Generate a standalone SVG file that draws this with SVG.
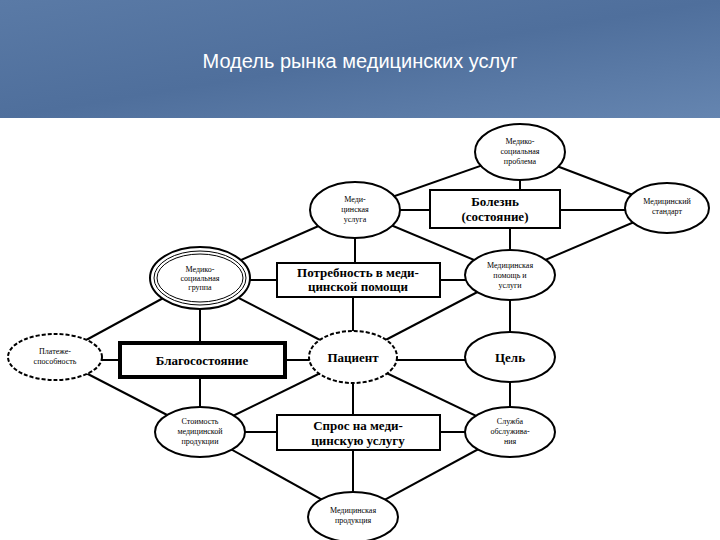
<svg xmlns="http://www.w3.org/2000/svg" width="720" height="540" viewBox="0 0 720 540">
<defs>
<linearGradient id="hdr" x1="0" y1="0" x2="1" y2="1">
<stop offset="0" stop-color="#5a7aa6"/><stop offset="0.5" stop-color="#4f6f9c"/><stop offset="1" stop-color="#6585b0"/>
</linearGradient>
</defs>
<style>
.l{stroke:#000;stroke-width:2;fill:none}
.e{fill:#fff;stroke:#000;stroke-width:2}
.b{fill:#fff;stroke:#000;stroke-width:2}
.t{font-family:"Liberation Serif",serif;font-size:8px;text-anchor:middle;fill:#000}
.bt{font-family:"Liberation Serif",serif;font-size:13px;font-weight:bold;text-anchor:middle;fill:#000}
</style>
<rect x="0" y="0" width="720" height="540" fill="#fff"/>
<rect x="0" y="0" width="720" height="118" fill="url(#hdr)"/>
<text x="360" y="68" font-family="Liberation Sans,sans-serif" font-size="20" fill="#fff" text-anchor="middle">Модель рынка медицинских услуг</text>
<g id="connectors">
<line class="l" x1="520" y1="152" x2="355" y2="210"/>
<line class="l" x1="520" y1="152" x2="520" y2="209"/>
<line class="l" x1="520" y1="152" x2="667" y2="208"/>
<line class="l" x1="355" y1="210" x2="667" y2="210"/>
<line class="l" x1="510" y1="209" x2="510" y2="275"/>
<line class="l" x1="667" y1="208" x2="510" y2="275"/>
<line class="l" x1="355" y1="210" x2="510" y2="275"/>
<line class="l" x1="355" y1="210" x2="200" y2="278"/>
<line class="l" x1="355" y1="210" x2="355" y2="280"/>
<line class="l" x1="200" y1="280" x2="510" y2="280"/>
<line class="l" x1="510" y1="275" x2="353" y2="357"/>
<line class="l" x1="510" y1="275" x2="510" y2="432"/>
<line class="l" x1="200" y1="278" x2="55" y2="357"/>
<line class="l" x1="200" y1="278" x2="200" y2="432"/>
<line class="l" x1="200" y1="278" x2="353" y2="357"/>
<line class="l" x1="353" y1="280" x2="353" y2="517"/>
<line class="l" x1="55" y1="360" x2="510" y2="360"/>
<line class="l" x1="55" y1="357" x2="200" y2="432"/>
<line class="l" x1="353" y1="357" x2="200" y2="432"/>
<line class="l" x1="353" y1="357" x2="510" y2="432"/>
<line class="l" x1="200" y1="432" x2="510" y2="432"/>
<line class="l" x1="200" y1="432" x2="353" y2="517"/>
<line class="l" x1="510" y1="432" x2="353" y2="517"/>
</g>
<g id="n-top"><ellipse class="e" cx="520" cy="152" rx="45" ry="28"/><text class="t" x="520" y="144">Медико-</text><text class="t" x="520" y="154">социальная</text><text class="t" x="520" y="164">проблема</text></g>
<g id="n-bolezn"><rect class="b" x="430" y="190" width="130" height="38"/><text class="bt" x="495" y="206">Болезнь</text><text class="bt" x="495" y="221">(состояние)</text></g>
<g id="n-right"><ellipse class="e" cx="667" cy="208" rx="42" ry="25"/><text class="t" x="667" y="204">Медицинский</text><text class="t" x="667" y="214">стандарт</text></g>
<g id="n-usluga"><ellipse class="e" cx="355" cy="210" rx="45" ry="28"/><text class="t" x="355" y="202">Меди-</text><text class="t" x="355" y="212">цинская</text><text class="t" x="355" y="222">услуга</text></g>
<g id="n-group"><ellipse class="e" cx="200" cy="278" rx="50" ry="31"/><ellipse cx="200" cy="278" rx="46" ry="27" fill="none" stroke="#000" stroke-width="1"/><ellipse cx="200" cy="278" rx="43" ry="24" fill="none" stroke="#000" stroke-width="1"/><text class="t" x="200" y="272">Медико-</text><text class="t" x="200" y="281">социальная</text><text class="t" x="200" y="290">группа</text></g>
<g id="n-potreb"><rect class="b" x="277" y="263" width="163" height="34"/><text class="bt" x="358" y="277" font-size="11">Потребность в меди-</text><text class="bt" x="358" y="291" font-size="10">цинской помощи</text></g>
<g id="n-pomosh"><ellipse class="e" cx="510" cy="275" rx="45" ry="25"/><text class="t" x="510" y="268">Медицинская</text><text class="t" x="510" y="278">помощь и</text><text class="t" x="510" y="288">услуги</text></g>
<g id="n-plat"><ellipse class="e" cx="55" cy="357" rx="47" ry="23" stroke-dasharray="4 2"/><text class="t" x="55" y="354">Платеже-</text><text class="t" x="55" y="364">способность</text></g>
<g id="n-blago"><rect x="120" y="343" width="165" height="34" fill="#fff" stroke="#000" stroke-width="4"/><text class="bt" x="202" y="365" font-weight="normal">Благосостояние</text></g>
<g id="n-pacient"><ellipse class="e" cx="353" cy="357" rx="44" ry="26" stroke-dasharray="4 2"/><text class="bt" x="353" y="362" font-size="12">Пациент</text></g>
<g id="n-cel"><ellipse class="e" cx="510" cy="357" rx="45" ry="25"/><text class="bt" x="510" y="362" font-size="12" font-weight="normal">Цель</text></g>
<g id="n-stoim"><ellipse class="e" cx="200" cy="432" rx="45" ry="25"/><text class="t" x="200" y="424">Стоимость</text><text class="t" x="200" y="434">медицинской</text><text class="t" x="200" y="444">продукции</text></g>
<g id="n-spros"><rect class="b" x="277" y="415" width="163" height="35"/><text class="bt" x="358" y="430">Спрос на меди-</text><text class="bt" x="358" y="445">цинскую услугу</text></g>
<g id="n-sluzhba"><ellipse class="e" cx="510" cy="432" rx="45" ry="25"/><text class="t" x="510" y="424">Служба</text><text class="t" x="510" y="434">обслужива-</text><text class="t" x="510" y="444">ния</text></g>
<g id="n-bottom"><ellipse class="e" cx="353" cy="517" rx="45" ry="25"/><text class="t" x="353" y="513">Медицинская</text><text class="t" x="353" y="523">продукция</text></g>
</svg>
